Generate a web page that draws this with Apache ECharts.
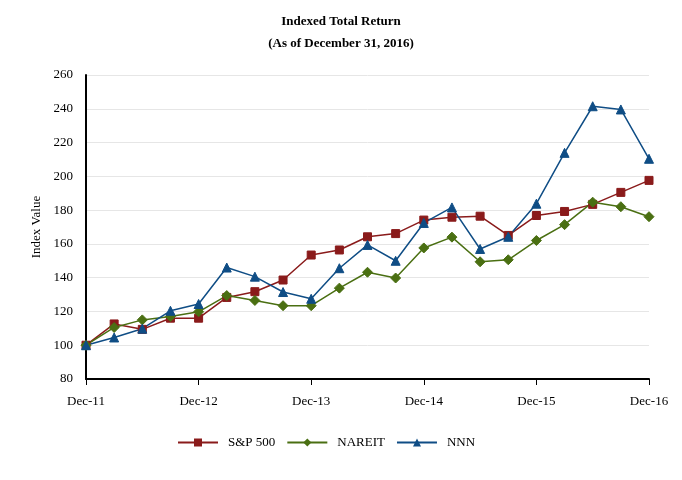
<!DOCTYPE html>
<html><head><meta charset="utf-8">
<script src="https://cdn.jsdelivr.net/npm/echarts@6/dist/echarts.min.js"></script>
<style>html,body{margin:0;padding:0;background:#fff}#c{width:682px;height:480px}</style>
</head><body><div id="c"></div>
<script>
const categories = ["Dec-11","Mar-12","Jun-12","Sep-12","Dec-12","Mar-13","Jun-13","Sep-13","Dec-13","Mar-14","Jun-14","Sep-14","Dec-14","Mar-15","Jun-15","Sep-15","Dec-15","Mar-16","Jun-16","Sep-16","Dec-16"];
const sp500 = [100,112.6,109.4,116,116,128.3,131.7,138.6,153.4,156.4,164.2,166.1,174.1,175.8,176.4,165,176.8,179.2,183.4,190.5,197.6];
const nareit = [100,110.5,115,117,119.8,129.4,126.5,123.4,123.4,133.8,143.2,139.8,157.6,164,149.4,150.6,162,171.4,184.7,182,176.1];
const nnn = [100,104.6,109.8,120.4,124.4,146,140.6,131.5,127.5,145.6,159.4,150,172.4,181.6,157,164.2,183.8,213.9,241.5,239.6,210.4];
const yTicks = {min:80, max:260, interval:20};

const serif = '"Liberation Serif","Times New Roman",serif';
const chart = echarts.init(document.getElementById('c'));
function mk(name, data, color, symbol, size){
  return {name, type:'line', data, symbol, symbolSize:size, showSymbol:true,
    lineStyle:{color, width:1.5}, itemStyle:{color, borderColor:color}, animation:false};
}
chart.setOption({
  animation:false,
  title:{text:'Indexed Total Return\n(As of December 31, 2016)', left:'center', top:6,
    textStyle:{fontFamily:serif, fontWeight:'bold', fontSize:13, color:'#000', lineHeight:22}},
  grid:{left:86, right:33, top:75, bottom:101},
  legend:{top:436, left:177, padding:0, itemWidth:40, itemHeight:10, itemGap:11,
    textStyle:{fontFamily:serif, fontSize:13, color:'#000', padding:[0,0,0,5]},
    data:['S&P 500','NAREIT','NNN']},
  xAxis:{type:'category', data:categories, boundaryGap:false,
    axisLine:{lineStyle:{color:'#000', width:2}},
    axisTick:{interval:3, length:6, lineStyle:{color:'#000', width:1}},
    axisLabel:{interval:3, fontFamily:serif, fontSize:13, color:'#000', margin:16},
    splitLine:{show:false}},
  yAxis:{type:'value', min:yTicks.min, max:yTicks.max, interval:yTicks.interval,
    name:'Index Value', nameLocation:'middle', nameGap:42,
    nameTextStyle:{fontFamily:serif, fontSize:13, color:'#000'},
    axisLine:{show:true, lineStyle:{color:'#000', width:2}},
    axisTick:{show:false},
    axisLabel:{fontFamily:serif, fontSize:13, color:'#000', margin:13},
    splitLine:{lineStyle:{color:'#e6e6e6', width:1}}},
  series:[
    mk('S&P 500', sp500, '#8a1b1b', 'rect', 8),
    mk('NAREIT', nareit, '#4a6f12', 'diamond', 10),
    mk('NNN', nnn, '#0f4d85', 'triangle', 9)
  ]
});
</script></body></html>
